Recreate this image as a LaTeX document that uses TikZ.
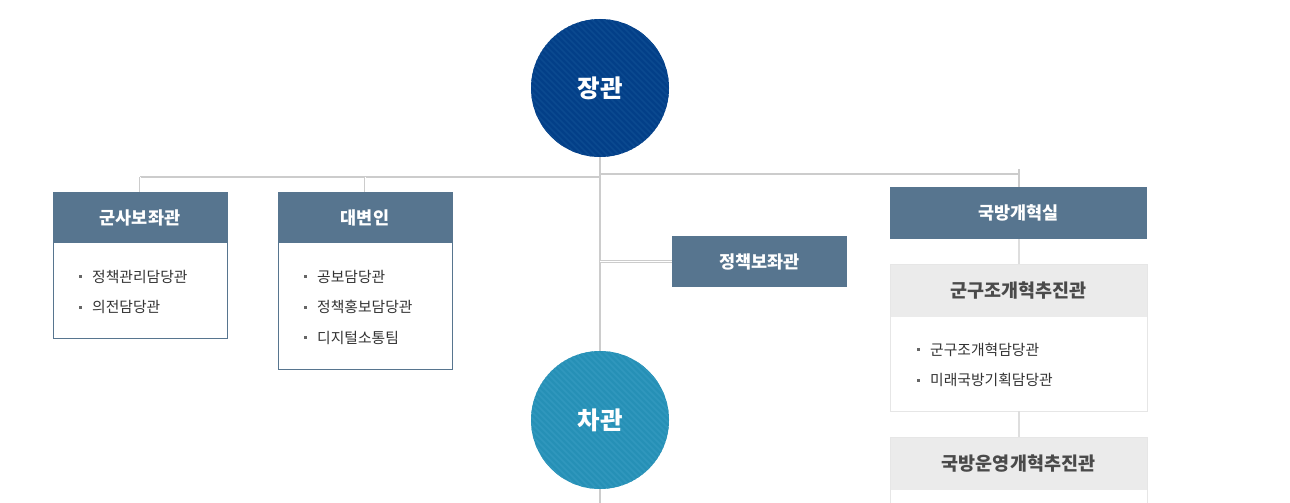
\documentclass[tikz,border=0pt]{standalone}
\usepackage{fontspec}
\setmainfont{Noto Sans CJK KR}

\definecolor{headblue}{HTML}{57758F}
\definecolor{linegray}{HTML}{CCCCCC}
\definecolor{lightline}{HTML}{DEDEDE}
\definecolor{subgray}{HTML}{EBEBEB}
\definecolor{subtext}{HTML}{4A4A4A}
\definecolor{itemtext}{HTML}{333333}
\definecolor{bulletgray}{HTML}{666666}
\definecolor{boxgray}{HTML}{E6E6E6}
\definecolor{chiefblue}{HTML}{033F88}
\definecolor{chiefstripe}{HTML}{0B4990}
\definecolor{vicecolor}{HTML}{2690B6}
\definecolor{vicestripe}{HTML}{3097BD}

\begin{document}
\begin{tikzpicture}[x=1pt, y=-1pt,
  line/.style={draw=linegray, line width=2pt},
  twin/.style={draw=linegray, double=white, double distance=0.8pt, line width=0.8pt},
  chief/.style n args={2}{circle, minimum size=138pt, inner sep=0, fill=#1, text=white,
    font=\fontsize{24.5}{24.5}\selectfont\bfseries,
    path picture={\foreach \s in {-150,-144,...,150}
      \draw[#2, line width=1.5pt] ([xshift=\s pt]path picture bounding box.north west) -- ++(160,160);}},
  headbox/.style={rectangle, fill=headblue, text=white, font=\fontsize{17.5}{17.5}\selectfont\bfseries,
    minimum height=51pt, inner sep=0},
  subhead/.style={rectangle, fill=subgray, text=subtext, font=\fontsize{18.5}{18.5}\selectfont\bfseries,
    minimum width=257pt, minimum height=53pt, inner sep=0},
  item/.style={anchor=west, inner sep=0, text=itemtext, font=\fontsize{14.8}{14.8}\selectfont},
  bullet/.style={fill=bulletgray},
]
\clip (0,0) rectangle (1290,503);
\fill[white] (0,0) rectangle (1290,503);

% minister / vice minister
\node[chief={chiefblue}{chiefstripe}] (jang) at (600,88) {장관};
\node[chief={vicecolor}{vicestripe}] (cha) at (600,420) {차관};
\coordinate (trunkend) at (600,503);

% left branch
\node[headbox, minimum width=174pt] (gunsa) at (140,217.5) {군사보좌관};
\node[draw=headblue, minimum width=174pt, minimum height=146pt, anchor=north] (gunsa-box) at (gunsa.north) {};
\foreach \txt [count=\i] in {정책관리담당관, 의전담당관} {
  \node[item] (gunsa-\i) at (92,246+30.5*\i) {\txt};
  \fill[bullet] ([shift={(-13.5,-1.5)}]gunsa-\i.west) rectangle ++(3,3);
}

\node[headbox, minimum width=174pt] (daebyeon) at (365,217.5) {대변인};
\node[draw=headblue, minimum width=174pt, minimum height=177pt, anchor=north] (daebyeon-box) at (daebyeon.north) {};
\foreach \txt [count=\i] in {공보담당관, 정책홍보담당관, 디지털소통팀} {
  \node[item] (daebyeon-\i) at (317,246+30.5*\i) {\txt};
  \fill[bullet] ([shift={(-13.5,-1.5)}]daebyeon-\i.west) rectangle ++(3,3);
}

% policy aide
\node[headbox, minimum width=175pt] (jeongchaek) at (759.5,261.5) {정책보좌관};

% reform office
\node[headbox, minimum width=257pt, minimum height=52pt] (gukbang) at (1018.5,213) {국방개혁실};
\node[subhead] (gungujo) at (1018.5,290.5) {군구조개혁추진관};
\node[draw=boxgray, minimum width=257pt, minimum height=147pt, anchor=north] (gungujo-box) at (gungujo.north) {};
\foreach \txt [count=\i] in {군구조개혁담당관, 미래국방기획담당관} {
  \node[item] (gungujo-\i) at (930,319+30.5*\i) {\txt};
  \fill[bullet] ([shift={(-13.5,-1.5)}]gungujo-\i.west) rectangle ++(3,3);
}
\node[subhead] (unyeong) at (1018.5,463.5) {국방운영개혁추진관};
\node[draw=boxgray, minimum width=257pt, minimum height=140pt, anchor=north] (unyeong-box) at (unyeong.north) {};

% connectors
\coordinate (lj) at (140,177);
\coordinate (mid-l) at (600,177);
\coordinate (mid-r) at (600,174);
\coordinate (rj) at (1018.5,174);
\coordinate (rtop) at (1018.5,169);
\draw[line] (jang) -- (cha);
\draw[line] (cha) -- (trunkend);
\draw[line] (lj) -- (mid-l);
\draw[line] (mid-r) -- (rj);
\draw[twin] (lj) -- (gunsa.north);
\draw[twin] (daebyeon.north |- lj) -- (daebyeon.north);
\draw[line] (rtop) -- (gukbang.north);
\draw[twin] (jeongchaek.west -| jang.south) -- (jeongchaek.west);
\draw[line, draw=lightline] (gukbang.south) -- (gungujo.north);
\draw[line, draw=lightline] (gungujo-box.south) -- (unyeong.north);

\end{tikzpicture}
\end{document}
